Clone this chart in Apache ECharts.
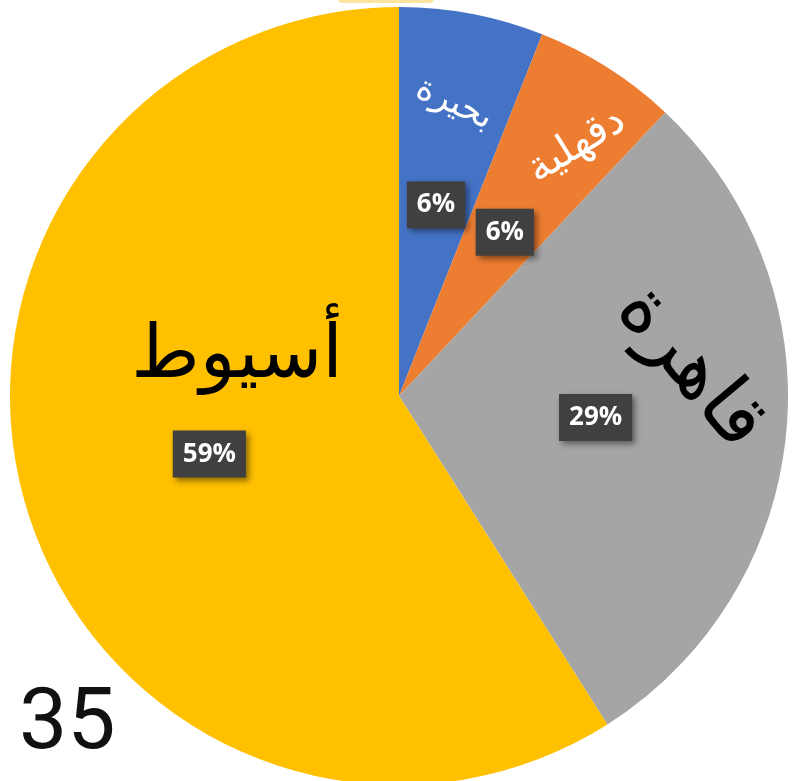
<!DOCTYPE html>
<html>
<head>
<meta charset="utf-8">
<script src="https://cdn.jsdelivr.net/npm/echarts@6/dist/echarts.min.js"></script>
<style>
html, body { margin: 0; padding: 0; background: #fff; }
#pie { width: 800px; height: 781px; }
</style>
</head>
<body>
<div id="pie"></div>
<script>
// 数据
let names = ["بحيرة", "دقهلية", "قاهرة", "أسيوط"];
let values = [6, 6, 29, 59];
let colors = ["#4472C4", "#ED7D31", "#A5A5A5", "#FFC000"];
let pageNum = "35";

// 名称标签样式 (旋转, 字号, 颜色, 偏移 —— 偏移在标签旋转后的坐标系内)
let nameRotate = [-25, 32, -50, 0];
let nameSize = [35, 42, 78, 74];
let nameColor = ["#ffffff", "#ffffff", "#000000", "#000000"];
let nameShift = [[1, 6], [10, 13], [-50, -28], [129, -123]];

function renderPie(){
    let pieDOM = document.getElementById("pie");
    let pieChart = echarts.init(pieDOM);
    let pctData = [];
    let nameData = [];
    for(let i = 0; i < names.length; i++){
        pctData.push({
            value: values[i],
            name: names[i],
            itemStyle: { color: colors[i] }
        });
        nameData.push({
            value: values[i],
            name: names[i],
            label: {
                rotate: nameRotate[i],
                fontSize: nameSize[i],
                color: nameColor[i]
            }
        });
    }
    let pieOpts = {
        animation: false,
        graphic: [
            {
                type: "rect",
                shape: { x: 338, y: -6, width: 96, height: 9, r: 5 },
                style: { fill: "#FBE3A0" }
            },
            {
                type: "text",
                left: 19,
                top: 683,
                style: {
                    text: pageNum,
                    font: "86px Roboto",
                    fill: "#111111"
                }
            }
        ],
        series: [
            {
                type: "pie",
                radius: [0, 389],
                center: [399, 396],
                startAngle: 90,
                clockwise: true,
                silent: true,
                data: pctData,
                label: {
                    show: true,
                    position: "inside",
                    formatter: "{d}%",
                    color: "#ffffff",
                    fontFamily: "Open Sans",
                    fontWeight: "bold",
                    fontSize: 26,
                    lineHeight: 28,
                    backgroundColor: "#404040",
                    padding: [10, 10, 9, 10],
                    shadowBlur: 6,
                    shadowOffsetX: 3,
                    shadowOffsetY: 3,
                    shadowColor: "rgba(0,0,0,0.45)"
                },
                labelLine: { show: false },
                labelLayout: function(){
                    return { dy: 3 };
                }
            },
            {
                type: "pie",
                radius: [211, 389],
                center: [399, 396],
                startAngle: 90,
                clockwise: true,
                silent: true,
                itemStyle: { color: "rgba(0,0,0,0)" },
                data: nameData,
                label: {
                    show: true,
                    position: "inside",
                    formatter: "{b}",
                    fontFamily: "DejaVu Sans"
                },
                labelLine: { show: false },
                labelLayout: function(params){
                    let s = nameShift[params.dataIndex];
                    return { dx: s[0], dy: s[1] };
                }
            }
        ]
    };
    pieChart.setOption(pieOpts);
}
renderPie();
</script>
</body>
</html>
